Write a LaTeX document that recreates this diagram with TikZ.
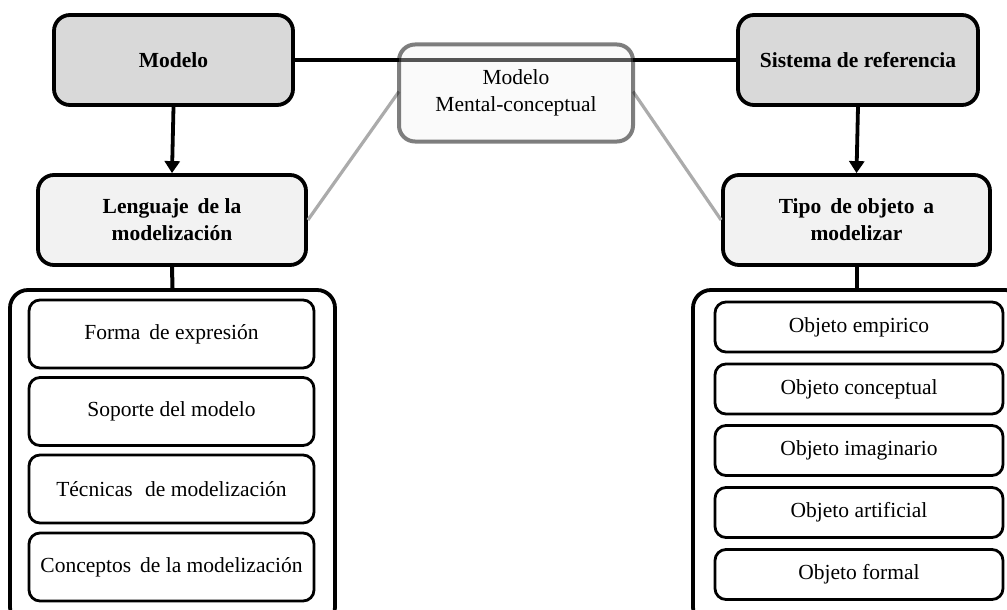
\documentclass[tikz,border=0pt]{standalone}
\usepackage{fontspec}
\setmainfont{Liberation Serif}
\usetikzlibrary{arrows.meta}
\definecolor{hdrgray}{HTML}{D9D9D9}
\definecolor{subgray}{HTML}{F2F2F2}
\definecolor{linkgray}{HTML}{ABABAB}
\tikzset{
  every node/.style={font=\fontsize{21.5}{27}\selectfont, align=center, inner sep=0pt},
  header/.style={draw=black, line width=3.8pt, rounded corners=16pt, fill=hdrgray, font=\fontsize{21.5}{27}\selectfont\bfseries},
  subhdr/.style={draw=black, line width=3.8pt, rounded corners=16pt, fill=subgray, font=\fontsize{21.5}{27}\selectfont\bfseries},
  mentalbox/.style={draw=black, draw opacity=0.5, line width=4pt, rounded corners=16pt, fill=gray!10, fill opacity=0.35, text opacity=1},
  container/.style={draw=black, line width=3.8pt, rounded corners=18pt, fill=white},
  itembox/.style={draw=black, line width=2.8pt, rounded corners=11pt, fill=white},
  link/.style={draw=black, line width=4pt},
  greylink/.style={draw=linkgray, line width=3.2pt},
  arr/.style={draw=black, line width=3.8pt, -{Triangle[width=15pt,length=12pt]}}
}
\begin{document}
\begin{tikzpicture}[x=1pt,y=-1pt]
\clip (0,0) rectangle (1007,610);
\fill[white] (0,0) rectangle (1007,610);

% header boxes
\node[header, minimum width=239pt, minimum height=90pt] (modelo) at (173.5,60) {Modelo};
\node[header, minimum width=240pt, minimum height=90pt] (sistema) at (858,60) {Sistema de referencia};

\node[subhdr, minimum width=268pt, minimum height=90pt] (lenguaje) at (172,220) {Lenguaje\, de la\\modelización};
\node[subhdr, minimum width=267pt, minimum height=90pt] (tipo) at (856.5,220) {Tipo\, de objeto\, a\\modelizar};

% connectors behind the centre box
\draw[link] (modelo.east) -- (sistema.west);
\draw[greylink] (lenguaje.east) -- (399,91.5) coordinate (ml);
\draw[greylink] (633,91.5) coordinate (mr) -- (tipo.west);

\node[mentalbox, minimum width=234pt, minimum height=97pt] (mental) at (516,93) {Modelo\\Mental-conceptual};

% arrows
\draw[arr] (modelo.south) -- (lenguaje.north);
\draw[arr] (sistema.south) -- (tipo.north);

% containers
\node[container, minimum width=325pt, minimum height=335pt] (leftbox) at (172.5,457.5) {};
\node[container, minimum width=330pt, minimum height=335pt] (rightbox) at (858,457.5) {};
\draw[link] (lenguaje.south) -- (leftbox.north);
\draw[link] (tipo.south) -- (tipo.south |- rightbox.north);

% left items
\node[itembox, minimum width=285pt, minimum height=68pt] (l1) at (171.5,334) {Forma\, de expresión};
\node[itembox, minimum width=285pt, minimum height=68pt] (l2) at (171.5,411.5) {Soporte del modelo};
\node[itembox, minimum width=285pt, minimum height=68pt] (l3) at (171.5,489) {Técnicas\,\, de modelización};
\node[itembox, minimum width=285pt, minimum height=68pt] (l4) at (171.5,567) {Conceptos\, de la modelización};

% right items
\node[itembox, minimum width=288pt, minimum height=50pt] (r1) at (859,327) {Objeto empirico};
\node[itembox, minimum width=288pt, minimum height=50pt] (r2) at (859,389) {Objeto conceptual};
\node[itembox, minimum width=288pt, minimum height=50pt] (r3) at (859,450.5) {Objeto imaginario};
\node[itembox, minimum width=288pt, minimum height=50pt] (r4) at (859,512.5) {Objeto artificial};
\node[itembox, minimum width=288pt, minimum height=50pt] (r5) at (859,574.5) {Objeto formal};
\end{tikzpicture}
\end{document}
